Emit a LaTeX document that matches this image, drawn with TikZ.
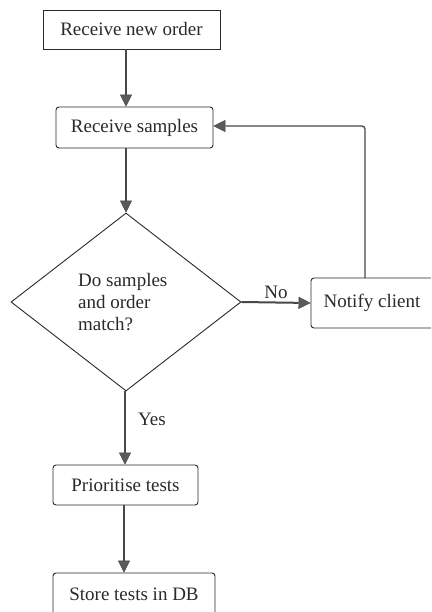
\documentclass[tikz,border=0pt]{standalone}
\usepackage{fontspec}
\setmainfont{Liberation Serif}
\usetikzlibrary{shapes.geometric,arrows.meta}
\definecolor{ink}{HTML}{2A2A2A}
\definecolor{flow}{HTML}{484848}
\definecolor{tipfill}{HTML}{5A5A5A}
\begin{document}
\begin{tikzpicture}[x=1pt,y=1pt,
  font=\fontsize{19}{22}\selectfont,
  box/.style={draw=ink,line width=0.9pt,inner sep=0pt,text=ink},
  rbox/.style={box,rounded corners=3pt},
  flowline/.style={draw=flow,line width=2pt,-{Triangle[open=false,length=12pt,width=12pt,line width=0.5pt,fill=tipfill]}},
  loopline/.style={draw=flow,line width=1.3pt,-{Triangle[open=false,length=12pt,width=12pt,line width=0.5pt,fill=tipfill]}},
  lbl/.style={text=ink,inner sep=0pt}]
\useasboundingbox (0,0) rectangle (431,-612);
\fill[white] (0,0) rectangle (431,-612);
\clip (0,0) rectangle (431,-612);

% process steps
\node[box,minimum width=177pt,minimum height=39pt] (order) at (131.5,-29.5) {Receive new order};
\node[rbox,minimum width=157pt,minimum height=41pt] (samples) at (134.5,-127.5) {Receive samples};
\node[draw=ink,line width=0.9pt,diamond,minimum width=230pt,minimum height=178pt,inner sep=0pt] (match) at (126,-302) {};
\node[lbl,align=left,anchor=west] (q) at (78,-302) {Do samples\\and order\\match?};
\node[rbox,minimum width=140pt,minimum height=50pt] (notify) at (381,-303) {\hspace{-18pt}Notify client};
\node[rbox,minimum width=145pt,minimum height=40pt] (prio) at (125.5,-485) {Prioritise tests};
\node[rbox,minimum width=162pt,minimum height=50pt] (store) at (134,-598) {};
\node[lbl,anchor=center] (storetxt) at (134,-594) {Store tests in DB};

% connectors
\coordinate (loopbottom) at (365,-278);
\coordinate (looptop) at (365,-126);
\draw[flowline] (order.south -| 126,0) -- (samples.north -| 126,0);
\draw[flowline] (samples.south -| 126,0) -- (match.north);
\draw[flowline] (match.east) -- (notify.west) node[lbl,midway,above=3pt] (no) {No};
\draw[loopline,rounded corners=3pt] (loopbottom) -- (looptop) -- (samples.east |- looptop);
\draw[flowline] (match.south -| 125,0) -- (prio.north -| 125,0) node[lbl,pos=0.38,right=12pt] (yes) {Yes};
\draw[flowline] (prio.south -| 124,0) -- (store.north -| 124,0);
\end{tikzpicture}
\end{document}
